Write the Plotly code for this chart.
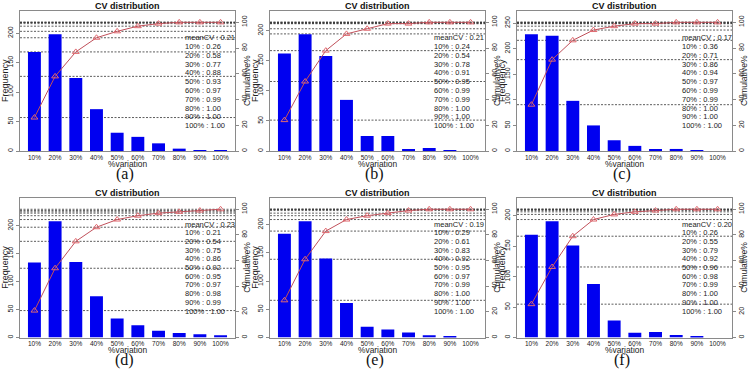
import plotly.graph_objects as go

categories = ["10%", "20%", "30%", "40%", "50%", "60%", "70%", "80%", "90%", "100%"]

freq_a = [168, 198, 124, 71, 31, 24, 13, 4, 1, 1]
freq_b = [162, 194, 158, 85, 25, 25, 3, 5, 1, 0]
freq_c = [228, 225, 98, 50, 21, 10, 2, 4, 1, 0]
freq_d = [134, 208, 135, 74, 34, 22, 12, 8, 6, 4]
freq_e = [184, 206, 140, 61, 19, 14, 9, 4, 2, 0]
freq_f = [169, 191, 151, 88, 28, 8, 9, 4, 2, 0]

cum_a = [0.26, 0.58, 0.77, 0.88, 0.93, 0.97, 0.99, 1.00, 1.00, 1.00]
cum_b = [0.24, 0.54, 0.78, 0.91, 0.95, 0.99, 0.99, 1.00, 1.00, 1.00]
cum_c = [0.36, 0.71, 0.86, 0.94, 0.97, 0.99, 0.99, 1.00, 1.00, 1.00]
cum_d = [0.21, 0.54, 0.75, 0.86, 0.92, 0.95, 0.97, 0.98, 0.99, 1.00]
cum_e = [0.29, 0.61, 0.83, 0.92, 0.95, 0.97, 0.99, 1.00, 1.00, 1.00]
cum_f = [0.26, 0.55, 0.79, 0.92, 0.96, 0.98, 0.99, 1.00, 1.00, 1.00]

mean_cv = [0.21, 0.21, 0.17, 0.23, 0.19, 0.20]
captions = ["(a)", "(b)", "(c)", "(d)", "(e)", "(f)"]
freq_ticks = [[0, 50, 100, 150, 200]] * 2 + [[0, 50, 100, 150, 200, 250]] + [[0, 50, 100, 150, 200]] * 3
cum_ticks = [0, 20, 40, 60, 80, 100]

freqs = [freq_a, freq_b, freq_c, freq_d, freq_e, freq_f]
cums = [cum_a, cum_b, cum_c, cum_d, cum_e, cum_f]

W, H = 751, 371
# panel boxes in pixels: x0, x1, y0(top), y1(bottom)
boxes = [
    (20, 235, 11, 151),
    (270, 485, 11, 151),
    (517, 732, 11, 151),
    (20, 235, 198, 337.5),
    (270, 485, 198, 337.5),
    (517, 732, 198, 337.5),
]
text_x = [183, 432, 680, 183, 432, 680]

def fx(px):
    return px / W

def fy(py):
    return 1 - py / H

FONT = "Liberation Sans, Arial, sans-serif"
LINE = "#8a8a8a"

fig = go.Figure()
layout = dict(
    template="none",
    width=W, height=H, margin=dict(l=0, r=0, t=0, b=0, autoexpand=False),
    paper_bgcolor="white", plot_bgcolor="white", showlegend=False,
    font=dict(family=FONT, color="#222"),
)
shapes = []
annotations = []

for i in range(6):
    n = i + 1
    nr = i + 7
    xa = "x" if n == 1 else f"x{n}"
    ya = "y" if n == 1 else f"y{n}"
    yr = f"y{nr}"
    x0, x1, y0, y1 = boxes[i]
    freq = freqs[i]
    cum = cums[i]
    idx = list(range(len(categories)))

    fig.add_trace(go.Bar(x=idx, y=freq, width=0.625, marker=dict(color="#0000f0", line=dict(width=0)),
                         xaxis=xa, yaxis=ya, hoverinfo="skip"))
    fig.add_trace(go.Scatter(x=idx, y=[c * 100 for c in cum], mode="lines+markers",
                             line=dict(color="#c0505a", width=1),
                             marker=dict(symbol="triangle-up-open", size=6, color="#e06a70", line=dict(width=1)),
                             xaxis=xa, yaxis=yr, hoverinfo="skip"))

    layout["xaxis" if n == 1 else f"xaxis{n}"] = dict(
        domain=[fx(x0), fx(x1)], anchor=ya, range=[-0.6975, 9.6975], automargin=False,
        tickmode="array", tickvals=idx, ticktext=categories, ticks="",
        tickfont=dict(size=6.5, family=FONT, color="#222"),
        showline=True, mirror=True, linecolor=LINE, linewidth=1,
        showgrid=False, zeroline=False, fixedrange=True,
    )
    layout["yaxis" if n == 1 else f"yaxis{n}"] = dict(
        domain=[fy(y1), fy(y0)], anchor=xa, range=[0, 1.2 * max(freq)], automargin=False,
        tickmode="array", tickvals=freq_ticks[i], ticks="outside", ticklen=3, tickcolor=LINE,
        tickangle=-90, tickfont=dict(size=7, family=FONT, color="#222"),
        showline=True, mirror=True, linecolor=LINE, linewidth=1,
        showgrid=False, zeroline=False, fixedrange=True,
    )
    layout[f"yaxis{nr}"] = dict(
        overlaying=ya, side="right", anchor=xa, range=[0, 108.8], automargin=False,
        tickmode="array", tickvals=cum_ticks, ticks="outside", ticklen=3, tickcolor=LINE,
        tickangle=-90, tickfont=dict(size=7, family=FONT, color="#222"),
        showline=True, linecolor=LINE, linewidth=1,
        showgrid=False, zeroline=False, fixedrange=True,
    )

    for c in cum:
        shapes.append(dict(type="line", xref=f"{xa} domain", yref=yr, x0=0, x1=1,
                           y0=c * 100, y1=c * 100, layer="below",
                           line=dict(color="#333", width=0.8, dash="2px,1.5px")))

    cx = (x0 + x1) / 2
    # title
    annotations.append(dict(text="<b>CV distribution</b>", x=fx(cx), y=fy(y0 - 5), xref="paper", yref="paper",
                            xanchor="center", yanchor="middle", showarrow=False,
                            font=dict(size=9, family=FONT, color="#111")))
    # x axis title
    annotations.append(dict(text="%variation", x=fx(cx), y=fy(y1 + 12.6), xref="paper", yref="paper",
                            xanchor="center", yanchor="middle", showarrow=False,
                            font=dict(size=8.4, family=FONT, color="#222")))
    # left axis title
    annotations.append(dict(text="Frequency", x=fx(x0 - 15), y=fy((y0 + y1) / 2), xref="paper", yref="paper",
                            xanchor="center", yanchor="middle", showarrow=False, textangle=-90,
                            font=dict(size=9, family=FONT, color="#222")))
    # right axis title
    annotations.append(dict(text="Cumulative%", x=fx(x1 + 12), y=fy((y0 + y1) / 2), xref="paper", yref="paper",
                            xanchor="center", yanchor="middle", showarrow=False, textangle=-90,
                            font=dict(size=8.6, family=FONT, color="#222")))
    # caption
    annotations.append(dict(text=captions[i], x=fx(cx - 3), y=fy(y1 + 22.5), xref="paper", yref="paper",
                            xanchor="center", yanchor="middle", showarrow=False,
                            font=dict(size=16, family="Liberation Serif, Times New Roman, serif", color="#111")))
    # legend text
    lines = [f"meanCV : {mean_cv[i]:.2f}"] + [f"{cat} : {c:.2f}" for cat, c in zip(categories, cum)]
    ty0 = 37.7 if i < 3 else 224
    step = 8.8 if i < 3 else 8.7
    for k, t in enumerate(lines):
        annotations.append(dict(text=t, x=fx(text_x[i]), y=fy(ty0 + step * k), xref="paper", yref="paper",
                                xanchor="left", yanchor="middle", showarrow=False,
                                font=dict(size=7.5, family=FONT, color="#222")))

layout["shapes"] = shapes
layout["annotations"] = annotations
fig.update_layout(**layout)
fig.write_html("out.html", config={"displayModeBar": False},
               post_script="document.body.style.margin='0';document.body.style.padding='0';document.body.style.overflow='hidden';")
